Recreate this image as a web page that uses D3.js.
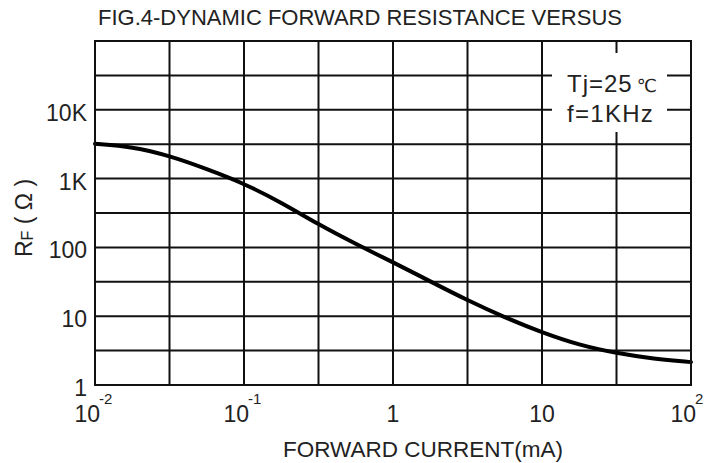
<!DOCTYPE html>
<html>
<head>
<meta charset="utf-8">
<script src="https://cdn.jsdelivr.net/npm/d3@7"></script>
<style>
  body { margin: 0; background: #fff; }
  text { font-family: "Liberation Sans", Arial, sans-serif; fill: #222; }
</style>
</head>
<body>
<svg width="719" height="463"></svg>
<script>
// forward current (mA) and dynamic resistance (ohm)
var current = [0.01, 0.0178, 0.0316, 0.0562, 0.1, 0.178, 0.316, 0.562, 1, 1.78, 3.16, 5.62, 10, 17.8, 31.6, 56.2, 100]
var resistance = [3200, 2900, 2150, 1380, 850, 450, 215, 112, 61, 32, 17, 9.6, 5.8, 3.8, 2.9, 2.4, 2.15]

// tick labels
var xTicks = [0.01, 0.1, 1, 10, 100]
var xTickBase = ['10', '10', '1', '10', '10']
var xTickExp = ['-2', '-1', '', '', '2']
var yTicks = [1, 10, 100, 1000, 10000]
var yTickLabels = ['1', '10', '100', '1K', '10K']

var titleText = 'FIG.4-DYNAMIC FORWARD RESISTANCE VERSUS'
var xTitle = 'FORWARD CURRENT(mA)'
var noteLines = ['Tj=25', 'f=1KHz']

var svg = d3.select('svg')
var margin = { top: 41, right: 28, bottom: 78, left: 95 }
var width = 719 - margin.left - margin.right
var height = 463 - margin.top - margin.bottom

var g = svg.append('g')
    .attr('transform', 'translate(' + margin.left + ',' + margin.top + ')')

var x = d3.scaleLog().domain([0.01, 100]).range([0, width])
var y = d3.scaleLog().domain([1, 100000]).range([height, 0])

// grid every half decade
var xGrid = d3.range(-4, 5).map(function (k) { return Math.pow(10, k / 2) })
var yGrid = d3.range(0, 11).map(function (k) { return Math.pow(10, k / 2) })

g.selectAll('.vgrid')
    .data(xGrid)
    .enter().append('line')
    .attr('x1', function (d) { return x(d) })
    .attr('x2', function (d) { return x(d) })
    .attr('y1', 0)
    .attr('y2', height)
    .attr('stroke', '#111')
    .attr('stroke-width', 2)

g.selectAll('.hgrid')
    .data(yGrid)
    .enter().append('line')
    .attr('x1', 0)
    .attr('x2', width)
    .attr('y1', function (d) { return y(d) })
    .attr('y2', function (d) { return y(d) })
    .attr('stroke', '#111')
    .attr('stroke-width', 2)

// white box behind the test conditions
g.append('rect')
    .attr('x', 552 - margin.left)
    .attr('y', 53 - margin.top)
    .attr('width', 115)
    .attr('height', 79)
    .attr('fill', '#fff')

var note = g.append('g').attr('transform', 'translate(' + (567 - margin.left) + ',0)')
var t1 = note.append('text').attr('y', 92 - margin.top).attr('font-size', 24).attr('letter-spacing', 1)
t1.append('tspan').text(noteLines[0])
t1.append('tspan').attr('font-size', 18).attr('font-family', 'DejaVu Sans').attr('dx', 4).text('℃')
note.append('text').attr('y', 122 - margin.top).attr('font-size', 24).attr('letter-spacing', 1.3).text(noteLines[1])

// curve
var line = d3.line()
    .x(function (d) { return x(d[0]) })
    .y(function (d) { return y(d[1]) })
    .curve(d3.curveBasis)

g.append('path')
    .datum(d3.zip(current, resistance))
    .attr('fill', 'none')
    .attr('stroke', '#000')
    .attr('stroke-width', 4)
    .attr('stroke-linecap', 'round')
    .attr('d', line)

// y tick labels
g.selectAll('.ylab')
    .data(yTicks)
    .enter().append('text')
    .attr('x', -8)
    .attr('y', function (d) { return y(d) + 11 })
    .attr('text-anchor', 'end')
    .attr('font-size', 23)
    .text(function (d, i) { return yTickLabels[i] })

// x tick labels, powers of ten with superscripts
xTicks.forEach(function (d, i) {
    var tx = x(d)
    if (xTickExp[i] === '') {
        g.append('text')
            .attr('x', tx)
            .attr('y', height + 37)
            .attr('text-anchor', 'middle')
            .attr('font-size', 23)
            .text(xTickBase[i])
    } else {
        g.append('text')
            .attr('x', tx + 5)
            .attr('y', height + 37)
            .attr('text-anchor', 'end')
            .attr('font-size', 23)
            .text(xTickBase[i])
        g.append('text')
            .attr('x', tx + 4)
            .attr('y', height + 19)
            .attr('font-size', 15)
            .text(xTickExp[i])
    }
})

// titles
svg.append('text')
    .attr('x', 98)
    .attr('y', 25)
    .attr('font-size', 22)
    .text(titleText)

svg.append('text')
    .attr('x', 423)
    .attr('y', 457)
    .attr('text-anchor', 'middle')
    .attr('font-size', 22.5)
    .text(xTitle)

var yt = svg.append('text')
    .attr('transform', 'translate(32,218) rotate(-90)')
    .attr('text-anchor', 'middle')
    .attr('font-size', 23)
yt.append('tspan').text('R')
yt.append('tspan').attr('font-size', 16).attr('dy', 1).text('F')
yt.append('tspan').attr('dy', -1).text(' ( Ω )')

// frame
g.append('rect')
    .attr('width', width)
    .attr('height', height)
    .attr('fill', 'none')
    .attr('stroke', '#111')
    .attr('stroke-width', 2)
</script>
</body>
</html>
